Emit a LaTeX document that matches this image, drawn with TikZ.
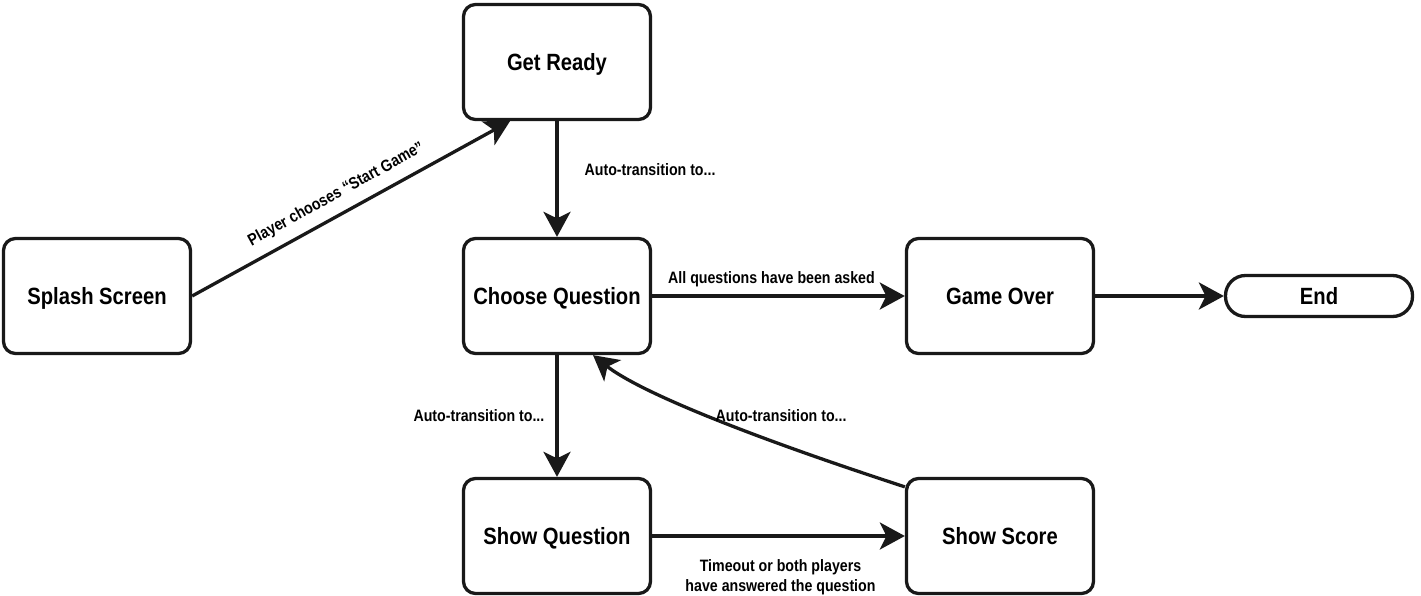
\documentclass[tikz,border=0pt]{standalone}
\usepackage{fontspec}
\setmainfont{Liberation Sans}[FakeStretch=0.86]
\usetikzlibrary{arrows.meta}
\begin{document}
\begin{tikzpicture}[x=1pt,y=-1pt,
  statebox/.style={draw=black!90, line width=3.3pt, rounded corners=12pt, minimum width=187pt, minimum height=115pt, inner sep=0pt, text height=17pt, text depth=0pt, font=\fontsize{23.5}{28}\selectfont\bfseries},
  endbox/.style={draw=black!90, line width=3.3pt, rounded corners=20pt, minimum width=187pt, minimum height=41pt, inner sep=0pt, text height=17pt, text depth=0pt, font=\fontsize{23.5}{28}\selectfont\bfseries},
  conn/.style={draw=black!90, line width=3.3pt, -{Stealth[length=25pt,width=27pt,inset=6.5pt]}},
  lbl/.style={inner sep=0pt, font=\fontsize{16.5}{19.5}\selectfont\bfseries}
]
\useasboundingbox (0,0) rectangle (1421,596);
\node[statebox] (splash) at (97,296) {Splash Screen};
\node[statebox] (ready) at (557,62) {Get Ready};
\node[statebox] (choose) at (557,296) {Choose Question};
\node[statebox] (over) at (1000,296) {Game Over};
\node[endbox] (end) at (1319,296) {End};
\node[statebox] (showq) at (557,536) {Show Question};
\node[statebox] (score) at (1000,536) {Show Score};

\draw[conn] (splash.east) -- node[lbl, pos=0.483, sloped, anchor=south, yshift=10pt] {Player chooses “Start Game”} ([xshift=-47pt]ready.south);
\draw[conn] (ready.south) -- node[lbl, midway, anchor=west, xshift=26pt, yshift=9pt] {Auto-transition to...} (choose.north);
\draw[conn] (choose.east) -- node[lbl, midway, anchor=base, xshift=-7pt, yshift=13pt] {All questions have been asked} (over.west);
\draw[conn] (over.east) -- (end.west);
\draw[conn] (choose.south) -- node[lbl, midway, anchor=east, xshift=-11pt] {Auto-transition to...} (showq.north);
\draw[conn] (showq.east) -- node[lbl, midway, anchor=north, align=center, xshift=2pt, yshift=-22pt] {Timeout or both players\\have answered the question} (score.west);
\draw[conn] ([yshift=-10pt]score.north west) .. controls +(-190,-62) and +(39,31) .. node[lbl, pos=0.3, xshift=20pt, yshift=21pt] {Auto-transition to...} ([xshift=36pt]choose.south);
\end{tikzpicture}
\end{document}
